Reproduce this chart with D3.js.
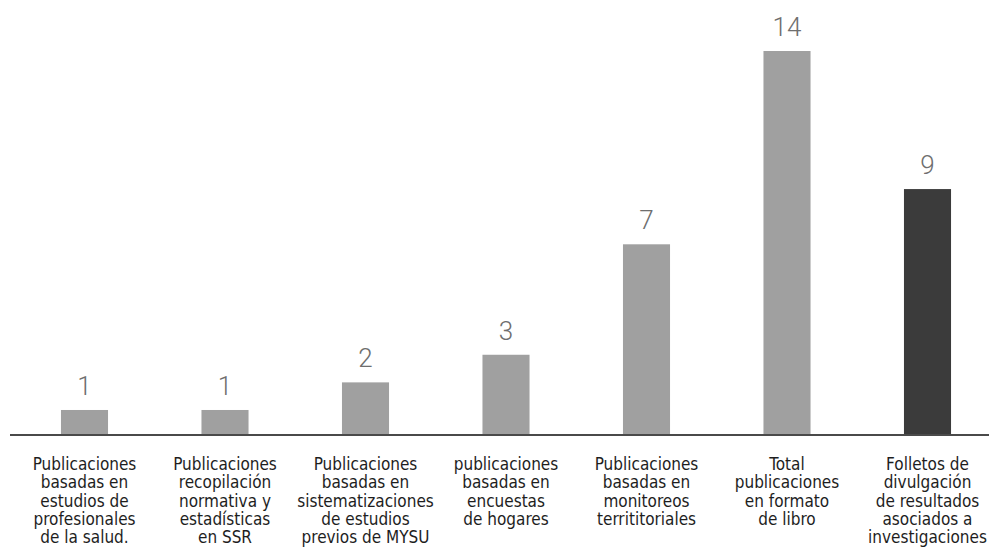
<!DOCTYPE html>
<html>
<head>
<meta charset="utf-8">
<script src="https://cdn.jsdelivr.net/npm/d3@7"></script>
<style>
  body { margin: 0; background: #fff; }
  svg { display: block; }
</style>
</head>
<body>
<div id="chart"></div>
<script>
// categories (one entry per line of the label) and values
const categories = [
  ["Publicaciones", "basadas en", "estudios de", "profesionales", "de la salud."],
  ["Publicaciones", "recopilación", "normativa y", "estadísticas", "en SSR"],
  ["Publicaciones", "basadas en", "sistematizaciones", "de estudios", "previos de MYSU"],
  ["publicaciones", "basadas en", "encuestas", "de hogares"],
  ["Publicaciones", "basadas en", "monitoreos", "territitoriales"],
  ["Total", "publicaciones", "en formato", "de libro"],
  ["Folletos de", "divulgación", "de resultados", "asociados a", "investigaciones"]
];
const values = [1, 1, 2, 3, 7, 14, 9];
const highlighted = [false, false, false, false, false, false, true];

const W = 989, H = 556;
const axisY = 435;

const svg = d3.select("#chart").append("svg")
  .attr("width", W)
  .attr("height", H);

const x = d3.scaleBand()
  .domain(d3.range(values.length))
  .range([14.25, 997.75])
  .paddingInner(0.665)
  .paddingOuter(0.3325);

// zero sits slightly under the axis line
const y = d3.scaleLinear()
  .domain([0, 14])
  .range([437.6, 51]);

// bars (stop at the axis line)
svg.selectAll("rect.bar")
  .data(values)
  .join("rect")
  .attr("class", "bar")
  .attr("x", (d, i) => x(i))
  .attr("y", d => y(d))
  .attr("width", x.bandwidth())
  .attr("height", d => axisY - y(d))
  .attr("fill", (d, i) => highlighted[i] ? "#3b3b3b" : "#a0a0a0");

// value labels
svg.selectAll("text.val")
  .data(values)
  .join("text")
  .attr("class", "val")
  .attr("x", (d, i) => x(i) + x.bandwidth() / 2)
  .attr("y", d => y(d) - 15)
  .attr("text-anchor", "middle")
  .style("font-family", "Roboto, 'DejaVu Sans', sans-serif")
  .style("font-weight", 300)
  .style("font-size", "26px")
  .style("fill", "#6e6e6e")
  .text(d => d);

// axis
const axis = svg.append("g")
  .attr("transform", `translate(0,${axisY})`)
  .call(d3.axisBottom(x).tickSize(0).tickFormat(""));
axis.select(".domain")
  .attr("d", `M10,0H${W}`)
  .attr("stroke", "#4a4a4a")
  .attr("stroke-width", 2);

// category labels
const lab = svg.selectAll("text.cat")
  .data(categories)
  .join("text")
  .attr("class", "cat")
  .attr("text-anchor", "middle")
  .style("font-family", "'DejaVu Sans Condensed', 'DejaVu Sans', sans-serif")
  .style("font-stretch", "condensed")
  .style("font-size", "17px")
  .style("fill", "#1e1e1e");

lab.selectAll("tspan")
  .data((d, i) => d.map(t => ({ t, i })))
  .join("tspan")
  .attr("x", d => x(d.i) + x.bandwidth() / 2)
  .attr("y", (d, j) => 470 + j * 18.3)
  .text(d => d.t);
</script>
</body>
</html>
